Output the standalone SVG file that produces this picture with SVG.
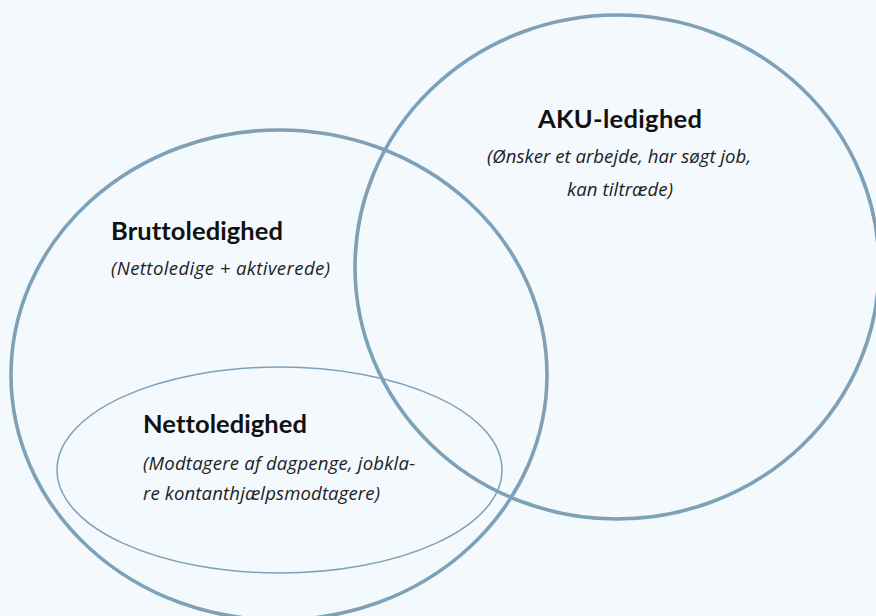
<svg xmlns="http://www.w3.org/2000/svg" width="876" height="616" viewBox="0 0 876 616">
  <style>
    .ring { fill: none; stroke: #7fa1b7; }
    .thick { stroke-width: 3.6; }
    .thin { stroke-width: 1.5; }
    text { font-variant-ligatures: none; }
    .title { font-family: Lato, "Open Sans", "Liberation Sans", sans-serif; font-weight: 700; font-size: 25.5px; fill: #111111; }
    .sub { font-family: "Open Sans", Lato, "Liberation Sans", sans-serif; font-style: italic; font-size: 18.6px; fill: #222222; }
  </style>
  <rect x="0" y="0" width="876" height="616" fill="#f4f9fd"/>
  <g id="bruttoledighed">
    <ellipse class="ring thick" cx="279" cy="375" rx="268" ry="245"/>
    <text class="title" x="111" y="240" textLength="172" lengthAdjust="spacing">Bruttoledighed</text>
    <text class="sub" x="111" y="275" textLength="219" lengthAdjust="spacing">(Nettoledige + aktiverede)</text>
  </g>
  <g id="aku-ledighed">
    <ellipse class="ring thick" cx="617" cy="267" rx="262" ry="252"/>
    <text class="title" x="538" y="128" textLength="164" lengthAdjust="spacing">AKU-ledighed</text>
    <text class="sub" x="487" y="163" textLength="264" lengthAdjust="spacing">(Ønsker et arbejde, har søgt job,</text>
    <text class="sub" x="567" y="196" textLength="106" lengthAdjust="spacing">kan tiltræde)</text>
  </g>
  <g id="nettoledighed">
    <ellipse class="ring thin" cx="279.5" cy="470" rx="222.5" ry="103"/>
    <text class="title" x="143" y="433" textLength="164" lengthAdjust="spacing">Nettoledighed</text>
    <text class="sub" x="143" y="470" textLength="272" lengthAdjust="spacing">(Modtagere af dagpenge, jobkla-</text>
    <text class="sub" x="143" y="500" textLength="237" lengthAdjust="spacing">re kontanthjælpsmodtagere)</text>
  </g>
  <g id="connectors"/>
</svg>
